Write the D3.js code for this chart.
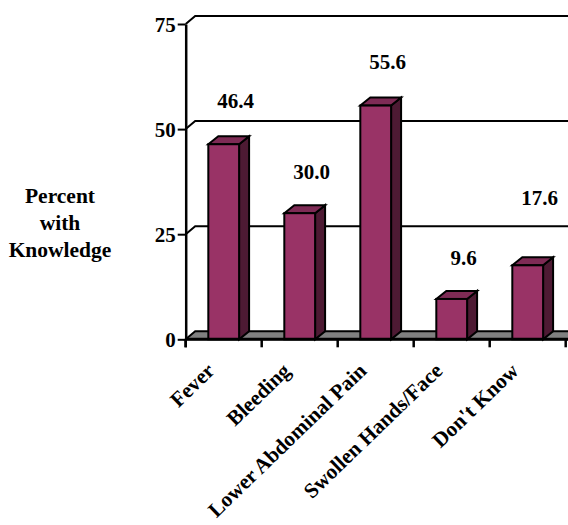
<!DOCTYPE html>
<html>
<head>
<meta charset="utf-8">
<script src="https://cdn.jsdelivr.net/npm/d3@7"></script>
<style>
  html, body { margin: 0; padding: 0; background: #fff; }
  svg { display: block; }
  svg text { font-family: "Liberation Serif", "Times New Roman", Times, Tinos, "DejaVu Serif", serif; font-weight: bold; }
</style>
</head>
<body>
<svg id="chart" width="568" height="525"></svg>
<script>
// Knowledge of danger signs, percent of respondents
const categories = ["Fever", "Bleeding", "Lower Abdominal Pain", "Swollen Hands/Face", "Don't Know"];
const values = [46.4, 30.0, 55.6, 9.6, 17.6];
const yTicks = [0, 25, 50, 75];
const axisTitle = ["Percent", "with", "Knowledge"];

// label lift above each bar top (px)
const labelLift = [36, 34, 36.5, 34, 60];

const W = 568, H = 525;
const plot = { left: 185.7, right: 565.7, top: 24, bottom: 339.3 };
const depth = { dx: 9.5, dy: -8 };      // wall / floor depth
const barDepth = { dx: 10, dy: -8 };     // bar depth
const colFront = "#993366", colTop = "#7e2b55", colSide = "#4d1a33", colFloor = "#808080";

const svg = d3.select("#chart");

const x = d3.scaleBand().domain(categories).range([plot.left, plot.right]).padding(0);
const y = d3.scaleLinear().domain([0, 75]).range([plot.bottom, plot.top]);
const barW = x.bandwidth() * 0.405;
const x0 = plot.left;

// gridlines: diagonal on side wall, horizontal across back wall
const grid = svg.append("g").attr("stroke", "#000").attr("stroke-width", 2).attr("fill", "none");
yTicks.filter(t => t > 0).forEach(t => {
  grid.append("path")
    .attr("d", `M${x0},${y(t)} L${x0 + depth.dx},${y(t) + depth.dy} L${W + 5},${y(t) + depth.dy}`);
});

// floor
svg.append("path")
  .attr("d", `M${x0},${y(0)} L${x0 + depth.dx},${y(0) + depth.dy} L${W + 5},${y(0) + depth.dy} L${W + 5},${y(0)} Z`)
  .attr("fill", colFloor).attr("stroke", "#000").attr("stroke-width", 2);

// bars
const bars = svg.append("g").attr("stroke", "#000").attr("stroke-width", 2).attr("stroke-linejoin", "miter");
categories.forEach((c, i) => {
  const xl = x(c) + (x.bandwidth() - barW) / 2, xr = xl + barW;
  const yt = y(values[i]), yb = y(0);
  const bdx = barDepth.dx, bdy = barDepth.dy;
  bars.append("path")
    .attr("d", `M${xr},${yt} L${xr + bdx},${yt + bdy} L${xr + bdx},${yb + bdy} L${xr},${yb} Z`)
    .attr("fill", colSide);
  bars.append("path")
    .attr("d", `M${xl},${yt} L${xl + bdx},${yt + bdy} L${xr + bdx},${yt + bdy} L${xr},${yt} Z`)
    .attr("fill", colTop);
  bars.append("rect")
    .attr("x", xl).attr("y", yt).attr("width", barW).attr("height", yb - yt)
    .attr("fill", colFront);
});

// floor front edge
svg.append("line")
  .attr("x1", x0).attr("x2", W + 5).attr("y1", y(0)).attr("y2", y(0))
  .attr("stroke", "#000").attr("stroke-width", 3);

// y axis
const yAxis = svg.append("g")
  .attr("transform", `translate(${x0},0)`)
  .call(d3.axisLeft(y).tickValues(yTicks).tickSize(8).tickSizeOuter(0).tickPadding(2));
yAxis.attr("font-family", null).attr("font-size", null);
yAxis.select(".domain").attr("stroke", "#000").attr("stroke-width", 2.5);
yAxis.selectAll(".tick line").attr("stroke", "#000").attr("stroke-width", 2);
yAxis.selectAll(".tick text")
  .attr("font-size", 21).attr("fill", "#000").attr("dy", "0.34em");

// y axis line continues to the bottom tick
svg.append("line")
  .attr("x1", x0).attr("x2", x0).attr("y1", y(0)).attr("y2", y(0) + 8)
  .attr("stroke", "#000").attr("stroke-width", 2.5);

// category boundary ticks
const bounds = categories.map(c => x(c)).concat([x.range()[1]]);
svg.append("g").selectAll("line").data(bounds).join("line")
  .attr("x1", d => d).attr("x2", d => d)
  .attr("y1", y(0)).attr("y2", y(0) + 8)
  .attr("stroke", "#000").attr("stroke-width", 2.5);

// category labels
const xAxis = svg.append("g")
  .attr("transform", `translate(0,${y(0)})`)
  .call(d3.axisBottom(x).tickSize(0).tickSizeOuter(0));
xAxis.attr("font-family", null).attr("font-size", null);
xAxis.select(".domain").remove();
xAxis.selectAll(".tick text")
  .attr("font-size", 21.2).attr("fill", "#000")
  .attr("text-anchor", "end").attr("y", 0).attr("dy", null)
  .attr("transform", "translate(-8,33) rotate(-44)");

// value labels
svg.append("g").selectAll("text").data(values).join("text")
  .attr("x", (d, i) => x(categories[i]) + x.bandwidth() / 2 + 12)
  .attr("y", (d, i) => y(d) - labelLift[i])
  .attr("text-anchor", "middle")
  .attr("font-size", 21).attr("fill", "#000")
  .text(d => d.toFixed(1));

// axis title
svg.append("text")
  .attr("x", 60).attr("y", 203)
  .attr("text-anchor", "middle").attr("font-size", 21.5).attr("fill", "#000")
  .selectAll("tspan").data(axisTitle).join("tspan")
  .attr("x", 60).attr("dy", (d, i) => i === 0 ? 0 : 27)
  .text(d => d);
</script>
</body>
</html>
